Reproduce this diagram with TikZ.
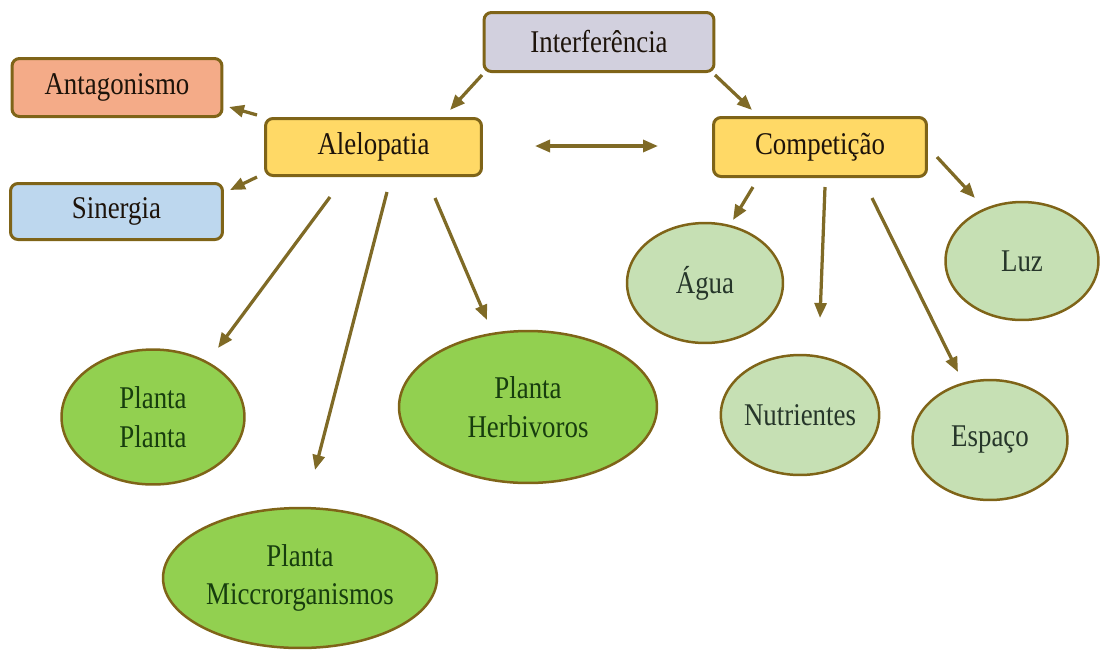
\documentclass[tikz,border=0pt]{standalone}
\usepackage{fontspec}
\setmainfont{Liberation Serif}[FakeStretch=0.85]
\usetikzlibrary{shapes.geometric,arrows.meta}

\definecolor{olivedge}{HTML}{7F6418}
\definecolor{olivearrow}{HTML}{7F6A26}
\definecolor{boxyellow}{HTML}{FFD966}
\definecolor{boxgray}{HTML}{D2D0DE}
\definecolor{boxsalmon}{HTML}{F4AB88}
\definecolor{boxblue}{HTML}{BDD7EE}
\definecolor{darkleaf}{HTML}{92D050}
\definecolor{lightleaf}{HTML}{C6E0B4}
\definecolor{leaftext}{HTML}{173D0E}
\definecolor{paletext}{HTML}{26362A}

\begin{document}
\begin{tikzpicture}[
        x=0.02cm, y=-0.02cm,
        lbl/.style={font=\fontsize{18}{22}\selectfont, align=center, inner sep=0pt},
        box/.style={lbl, rectangle, rounded corners=0.15cm, draw=olivedge, line width=0.06cm, text=black!85!brown},
        leaf/.style={lbl, ellipse, draw=olivedge, line width=0.05cm, fill=darkleaf, text=leaftext},
        paleleaf/.style={lbl, ellipse, draw=olivedge, line width=0.05cm, fill=lightleaf, text=paletext},
        arr/.style={draw=olivearrow, line width=0.065cm, -{Triangle[length=0.3cm,width=0.24cm]}},
        dblarr/.style={draw=olivearrow, line width=0.065cm, {Triangle[length=0.3cm,width=0.24cm]}-{Triangle[length=0.3cm,width=0.24cm]}}
    ]
    \useasboundingbox (0,0) rectangle (1100,654);

    % caixas
    \node[box, fill=boxgray, minimum width=4.6cm, minimum height=1.18cm] (interf) at (599,42) {Interferência};
    \node[box, fill=boxsalmon, minimum width=4.2cm, minimum height=1.16cm] (antag) at (117,87.5) {Antagonismo};
    \node[box, fill=boxyellow, minimum width=4.32cm, minimum height=1.14cm] (alelo) at (373.5,147) {Alelopatia};
    \node[box, fill=boxblue, minimum width=4.24cm, minimum height=1.12cm] (sinerg) at (116.5,211.5) {Sinergia};
    \node[box, fill=boxyellow, minimum width=4.26cm, minimum height=1.18cm] (compet) at (820,147) {Competição};

    % elipses da alelopatia
    \node[leaf, minimum width=3.66cm, minimum height=2.7cm] (plplanta) at (153,417) {Planta\\Planta};
    \node[leaf, minimum width=5.16cm, minimum height=3.04cm] (plherb) at (528,407) {Planta\\Herbivoros};
    \node[leaf, minimum width=5.48cm, minimum height=2.8cm] (plmicro) at (300,578) {Planta\\Miccrorganismos};

    % elipses da competicao
    \node[paleleaf, minimum width=3.12cm, minimum height=2.4cm] (agua) at (705,283) {Água};
    \node[paleleaf, minimum width=3.06cm, minimum height=2.36cm] (luz) at (1022,261) {Luz};
    \node[paleleaf, minimum width=3.1cm, minimum height=2.4cm] (nutri) at (800,415) {Nutrientes};
    \node[paleleaf, minimum width=3.1cm, minimum height=2.4cm] (espaco) at (990,440) {Espaço};

    % setas
    \draw[arr] ([shift={(-117,33)}]interf.center) -- ([shift={(76.5,-37)}]alelo.center);
    \draw[arr] ([shift={(116,33)}]interf.center) -- ([shift={(-68,-37)}]compet.center);
    \draw[arr] ([shift={(-116.5,-32)}]alelo.center) -- ([shift={(112,19.5)}]antag.center);
    \draw[arr] ([shift={(-116.5,30)}]alelo.center) -- ([shift={(113.5,-21.5)}]sinerg.center);
    \draw[dblarr] ([shift={(161.5,-1)}]alelo.center) -- ([shift={(-162,-1)}]compet.center);
    \draw[arr] ([shift={(-43.5,50)}]alelo.center) -- ([shift={(65,-69)}]plplanta.center);
    \draw[arr] ([shift={(13.5,45)}]alelo.center) -- ([shift={(15,-108)}]plmicro.center);
    \draw[arr] ([shift={(61.5,51)}]alelo.center) -- ([shift={(-41,-87)}]plherb.center);
    \draw[arr] ([shift={(-67,40)}]compet.center) -- ([shift={(28,-63)}]agua.center);
    \draw[arr] ([shift={(5,40)}]compet.center) -- ([shift={(20,-97)}]nutri.center);
    \draw[arr] ([shift={(52,51)}]compet.center) -- ([shift={(-32,-68)}]espaco.center);
    \draw[arr] ([shift={(117,10)}]compet.center) -- ([shift={(-47,-63)}]luz.center);
\end{tikzpicture}
\end{document}
